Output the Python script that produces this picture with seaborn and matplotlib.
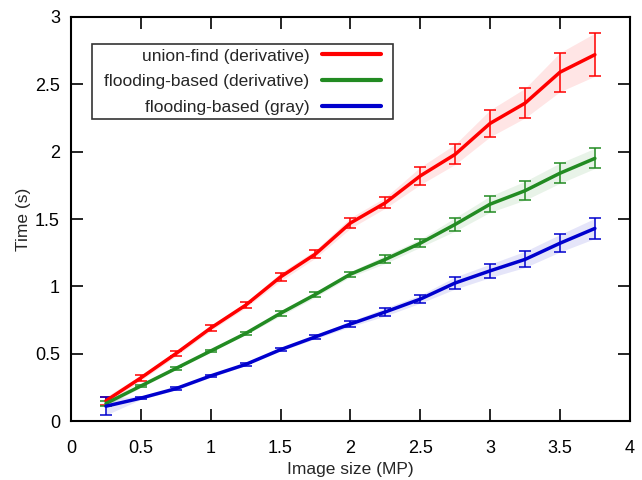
import seaborn as sns
import pandas as pd
import matplotlib.pyplot as plt
from matplotlib.path import Path

sizes = [0.25, 0.5, 0.75, 1.0, 1.25, 1.5, 1.75, 2.0, 2.25, 2.5, 2.75, 3.0, 3.25, 3.5, 3.75]

uf_deriv = [0.15, 0.32, 0.50, 0.69, 0.86, 1.07, 1.24, 1.47, 1.62, 1.82, 1.98, 2.21, 2.36, 2.59, 2.72]
uf_deriv_err = [0.03, 0.02, 0.02, 0.02, 0.02, 0.03, 0.03, 0.04, 0.04, 0.065, 0.075, 0.10, 0.11, 0.145, 0.16]

fl_deriv = [0.13, 0.26, 0.39, 0.52, 0.65, 0.80, 0.94, 1.09, 1.20, 1.32, 1.46, 1.61, 1.71, 1.84, 1.95]
fl_deriv_err = [0.02, 0.01, 0.01, 0.01, 0.01, 0.02, 0.02, 0.02, 0.03, 0.03, 0.05, 0.06, 0.07, 0.075, 0.075]

fl_gray = [0.11, 0.17, 0.24, 0.335, 0.42, 0.53, 0.625, 0.72, 0.81, 0.905, 1.025, 1.115, 1.20, 1.32, 1.43]
fl_gray_err = [0.065, 0.01, 0.01, 0.01, 0.01, 0.01, 0.015, 0.02, 0.03, 0.03, 0.045, 0.05, 0.06, 0.065, 0.075]

labels = ['union-find (derivative)', 'flooding-based (derivative)', 'flooding-based (gray)']
colors = ['#ff0000', '#228b22', '#0000cd']

means = [uf_deriv, fl_deriv, fl_gray]
errs = [uf_deriv_err, fl_deriv_err, fl_gray_err]

rows = []
for lab, m, e in zip(labels, means, errs):
    for x, y, s in zip(sizes, m, e):
        rows.append({'size': x, 'time': y, 'err': s, 'method': lab})
df = pd.DataFrame(rows)

sns.set_style('ticks')
plt.rcParams['font.family'] = ['Liberation Sans', 'DejaVu Sans']

fig = plt.figure(figsize=(6.42, 4.8), dpi=100)
ax = fig.add_axes([0.1106, 0.1229, 0.8704, 0.8417])

# shaded bands + error bars
for lab, col in zip(labels, colors):
    d = df[df['method'] == lab]
    ax.fill_between(d['size'], d['time'] - d['err'], d['time'] + d['err'],
                    color=col, alpha=0.1, linewidth=0)
    ax.errorbar(d['size'], d['time'], yerr=d['err'], fmt='none', ecolor=col,
                elinewidth=1.1, capsize=4.3, capthick=1.1)

sns.lineplot(data=df, x='size', y='time', hue='method', palette=colors,
             hue_order=labels, linewidth=2.5, ax=ax, legend=False)


# legend frame with extra horizontal padding (gnuplot look)
def wide_box(x0, y0, width, height, mutation_size):
    padx = 0.44 * mutation_size
    x0, x1 = x0 - padx, x0 + width + padx
    y1 = y0 + height
    return Path([(x0, y0), (x1, y0), (x1, y1), (x0, y1), (x0, y0)], closed=True)


handles = [plt.Line2D([], [], color=c, linewidth=3) for c in colors]
leg = ax.legend(handles, labels, loc='upper left', bbox_to_anchor=(0.0513, 0.933),
                borderaxespad=0, markerfirst=False, fancybox=False, frameon=True,
                fontsize=12.5, handlelength=3.4, borderpad=0.25, labelspacing=0.6,
                handletextpad=0.75)
leg.get_frame().set_boxstyle(wide_box)
leg.get_frame().set_edgecolor('black')
leg.get_frame().set_linewidth(1.2)

ax.set_xlim(0, 4)
ax.set_ylim(0, 3)
ax.set_xticks([0, 0.5, 1, 1.5, 2, 2.5, 3, 3.5, 4])
ax.set_xticklabels(['0', '0.5', '1', '1.5', '2', '2.5', '3', '3.5', '4'])
ax.set_yticks([0, 0.5, 1, 1.5, 2, 2.5, 3])
ax.set_yticklabels(['0', '0.5', '1', '1.5', '2', '2.5', '3'])
ax.tick_params(direction='in', length=8.6, width=1.2, top=True, right=True,
               labelsize=13, colors='black')
ax.tick_params(axis='x', pad=14)
ax.tick_params(axis='y', pad=8)
for sp in ax.spines.values():
    sp.set_visible(True)
    sp.set_linewidth(1.5)
    sp.set_color('black')

ax.set_xlabel('Image size (MP)', fontsize=12.5, labelpad=3)
ax.set_ylabel('Time (s)', fontsize=12.5, labelpad=3)

fig.savefig('out.png', dpi=100)
